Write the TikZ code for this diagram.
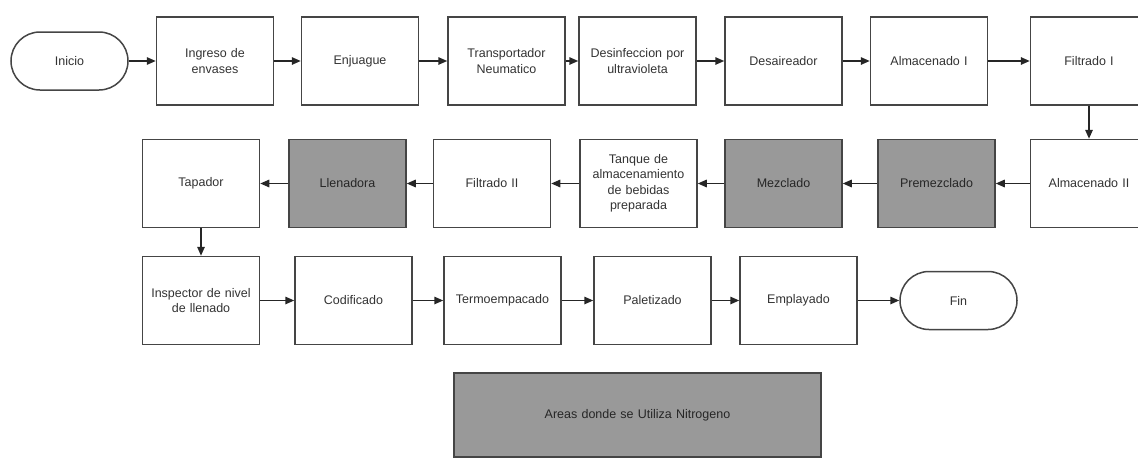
\documentclass[tikz,border=0pt]{standalone}
\usepackage{fontspec}
\setmainfont{Liberation Sans}
\usetikzlibrary{arrows.meta}
\definecolor{edgegray}{HTML}{454545}
\definecolor{textgray}{HTML}{333333}
\definecolor{nitrofill}{HTML}{999999}
\begin{document}
\begin{tikzpicture}[x=1pt,y=-1pt,
  stepbox/.style={draw=edgegray, line width=1.5pt, fill=white,
    minimum width=117pt, minimum height=88pt, inner sep=2pt,
    text width=113pt, align=center, text=textgray,
    font=\fontsize{12.5}{15.5}\selectfont},
  nitrobox/.style={stepbox, fill=nitrofill, text=black!85},
  terminal/.style={stepbox, minimum height=58pt, rounded corners=29pt},
  flow/.style={draw=black!85, line width=1.5pt,
    -{Triangle[length=9pt,width=7.5pt]}}]
\useasboundingbox (0,0) rectangle (1138,458);

% first row, left to right
\node[terminal] (inicio)  at (69.5,61)  {Inicio};
\node[stepbox]  (ingreso) at (215,61)   {Ingreso de\\envases};
\node[stepbox]  (enjuague) at (360,61)  {Enjuague};
\node[stepbox]  (transp)  at (506.5,61) {Transportador\\Neumatico};
\node[stepbox]  (desinf)  at (637.5,61) {Desinfeccion por\\ultravioleta};
\node[stepbox]  (desair)  at (783.5,61) {Desaireador};
\node[stepbox]  (almI)    at (929,61)   {Almacenado I};
\node[stepbox]  (filtI)   at (1089,61)  {Filtrado I};

% second row, right to left
\node[stepbox]  (almII)   at (1089,183.5)  {Almacenado II};
\node[nitrobox] (premez)  at (936.5,183.5) {Premezclado};
\node[nitrobox] (mezcl)   at (783.5,183.5) {Mezclado};
\node[stepbox]  (tanque)  at (638.5,183.5) {Tanque de\\almacenamiento\\de bebidas\\preparada};
\node[stepbox]  (filtII)  at (492,183.5)   {Filtrado II};
\node[nitrobox] (llen)    at (347.5,183.5) {Llenadora};
\node[stepbox]  (tapador) at (201,183.5)   {Tapador};

% third row, left to right
\node[stepbox]  (inspect) at (201,300.5)   {Inspector de nivel\\de llenado};
\node[stepbox]  (codif)   at (353.5,300.5) {Codificado};
\node[stepbox]  (termo)   at (502.5,300.5) {Termoempacado};
\node[stepbox]  (palet)   at (652.5,300.5) {Paletizado};
\node[stepbox]  (empl)    at (798.5,300.5) {Emplayado};
\node[terminal] (fin)     at (958.5,300.5) {Fin};

% legend
\node[nitrobox, minimum width=367pt, minimum height=84pt, text width=360pt]
  (legend) at (637.5,415) {Areas donde se Utiliza Nitrogeno};

% connectors
\draw[flow] (inicio) -- (ingreso);
\draw[flow] (ingreso) -- (enjuague);
\draw[flow] (enjuague) -- (transp);
\draw[flow] (transp) -- (desinf);
\draw[flow] (desinf) -- (desair);
\draw[flow] (desair) -- (almI);
\draw[flow] (almI) -- (filtI);
\draw[flow] (filtI) -- (almII);
\draw[flow] (almII) -- (premez);
\draw[flow] (premez) -- (mezcl);
\draw[flow] (mezcl) -- (tanque);
\draw[flow] (tanque) -- (filtII);
\draw[flow] (filtII) -- (llen);
\draw[flow] (llen) -- (tapador);
\draw[flow] (tapador) -- (inspect);
\draw[flow] (inspect) -- (codif);
\draw[flow] (codif) -- (termo);
\draw[flow] (termo) -- (palet);
\draw[flow] (palet) -- (empl);
\draw[flow] (empl) -- (fin);
\end{tikzpicture}
\end{document}
